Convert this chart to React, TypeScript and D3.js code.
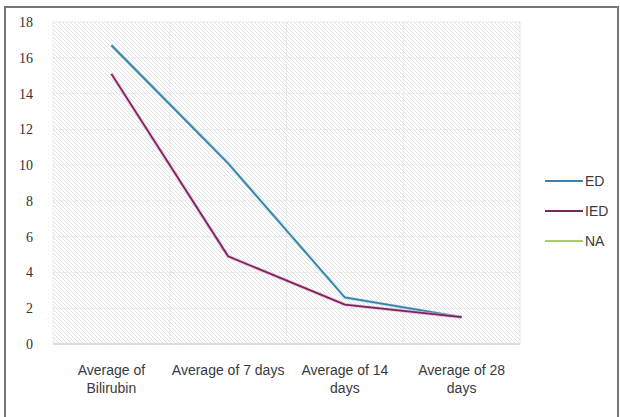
import React from "react";
import * as d3 from "d3";

const categories = ["Average of\nBilirubin", "Average of 7 days", "Average of 14\ndays", "Average of 28\ndays"];
const edValues = [16.7, 10.1, 2.6, 1.5];
const iedValues = [15.1, 4.9, 2.2, 1.5];
const naValues: number[] = [];
const yTicks = [0, 2, 4, 6, 8, 10, 12, 14, 16, 18];
const seriesNames = ["ED", "IED", "NA"];
const seriesColors = ["#3b82a6", "#7a2658", "#a8cc6a"];

export default function App() {
  const W = 620, H = 417;
  const left = 53, right = 520, top = 22, bottom = 344;
  const x = d3.scaleBand<string>().domain(categories).range([left, right]).paddingInner(0).paddingOuter(0);
  const y = d3.scaleLinear().domain([0, 18]).range([bottom, top]);
  const line = d3.line<number>().x((_, i) => (x(categories[i]) as number) + x.bandwidth() / 2).y(d => y(d));
  const series = [edValues, iedValues, naValues];
  const font = "'Liberation Sans', Arial, sans-serif";
  const serif = "'Liberation Serif', 'Times New Roman', serif";
  return (
    <svg width={W} height={H} style={{ position: "absolute", left: 0, top: 0 }}>
      <defs>
        <pattern id="hatch" width="4" height="4" patternUnits="userSpaceOnUse">
          <rect width="4" height="4" fill="#ffffff" />
          <path d="M-1,-1 L5,5 M-1,3 L1,5 M3,-1 L5,1" stroke="#e0e3e3" strokeWidth="1" />
        </pattern>
      </defs>
      <rect x={0} y={0} width={W} height={H} fill="#fff" />
      <rect x={5} y={7} width={613} height={420} fill="none" stroke="#777" strokeWidth={2} />
      <rect x={left} y={top} width={right - left} height={bottom - top} fill="url(#hatch)" />
      {yTicks.map(t => (
        <line key={"g" + t} x1={left} x2={right} y1={y(t)} y2={y(t)} stroke="#e2e5e5" strokeWidth={1} strokeDasharray="2,1" />
      ))}
      {categories.map((c, i) => (
        <line key={"v" + i} x1={x(c) as number} x2={x(c) as number} y1={top} y2={bottom} stroke="#e2e5e5" strokeWidth={1} strokeDasharray="2,1" />
      ))}
      <line x1={right} x2={right} y1={top} y2={bottom} stroke="#e2e5e5" strokeWidth={1} />
      <line x1={left} x2={right} y1={bottom} y2={bottom} stroke="#d4d8d8" strokeWidth={1.5} />
      {yTicks.map(t => (
        <text key={"t" + t} x={33} y={y(t) + 5} textAnchor="end" fontSize={14} fontFamily={serif} fill="#333">{t}</text>
      ))}
      {categories.map((c, i) => (
        <text key={"c" + i} x={(x(c) as number) + x.bandwidth() / 2} y={375} textAnchor="middle" fontSize={14} fontFamily={font} fill="#3a3a3a">
          {c.split("\n").map((s, j) => (
            <tspan key={j} x={(x(c) as number) + x.bandwidth() / 2} dy={j === 0 ? 0 : 18}>{s}</tspan>
          ))}
        </text>
      ))}
      {series.map((s, i) => s.length ? (
        <g key={"s" + i}>
          {i === 1 && <path d={line(s) as string} fill="none" stroke="#e8a6d2" strokeWidth={3.5} opacity={0.7} />}
          {i === 0 && <path d={line(s) as string} fill="none" stroke="#8fd0e8" strokeWidth={3} opacity={0.6} />}
          <path d={line(s) as string} fill="none" stroke={seriesColors[i]} strokeWidth={1.8} />
        </g>
      ) : null)}
      {seriesNames.map((n, i) => (
        <g key={"l" + i}>
          <line x1={545} x2={583} y1={181 + i * 30} y2={181 + i * 30} stroke={seriesColors[i]} strokeWidth={2} />
          <text x={585} y={186 + i * 30} fontSize={14} fontFamily={font} fill="#3a3a3a">{n}</text>
        </g>
      ))}
    </svg>
  );
}
